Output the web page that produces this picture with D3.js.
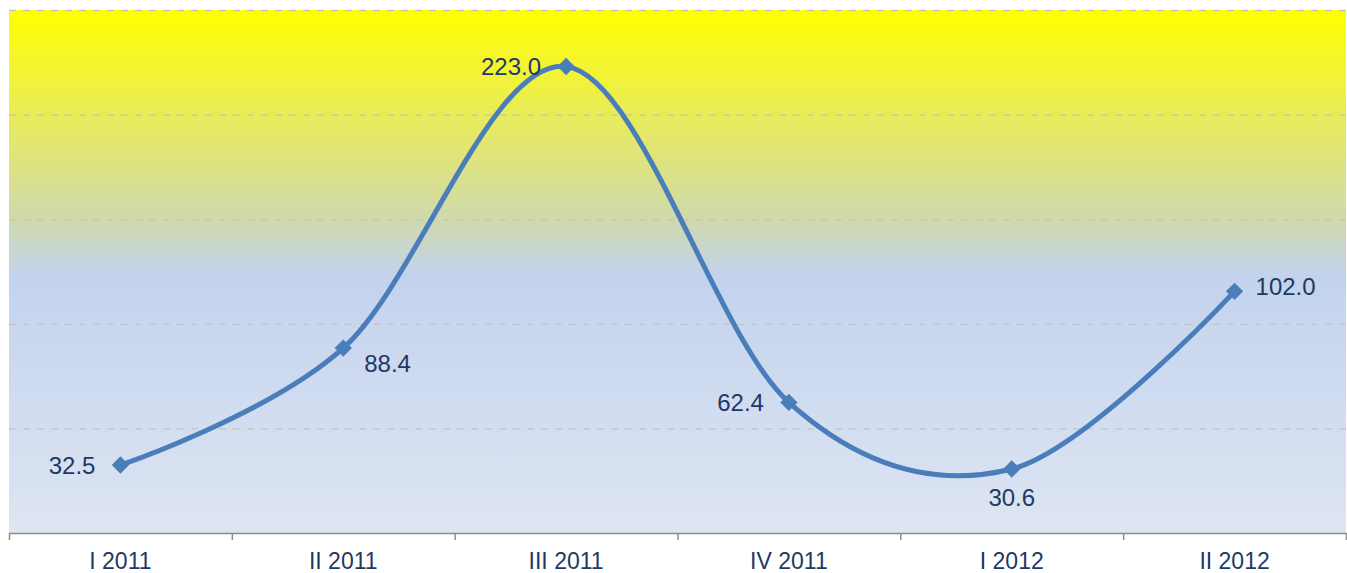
<html>
<head>
<script src="https://cdn.jsdelivr.net/npm/d3@7"></script>
<style>
body { margin:0; background:#ffffff; font-family:"Liberation Sans", Arial, sans-serif; }
svg text { fill:#1f3864; font-size:24px; }
</style>
</head>
<body>
<svg id="viz" width="1347" height="573"></svg>
<script>
var quarters = ["I 2011","II 2011","III 2011","IV 2011","I 2012","II 2012"];
// plotted heights (the last point sits above its 102.0 label value)
var values = [32.5, 88.4, 223.0, 62.4, 30.6, 115.5];
var labels = ["32.5","88.4","223.0","62.4","30.6","102.0"];
var labelSides = ["left","belowRight","left","left","below","right"];
var gridValues = [50,100,150,200,250];

var svg = d3.select("#viz");
var plotLeft = 9, plotRight = 1346, plotTop = 10, plotBottom = 533;

var xScale = d3.scaleBand().domain(quarters).range([plotLeft,plotRight]);
var yScale = d3.scaleLinear().domain([0,250]).range([plotBottom,plotTop]);

// background gradient
var grad = svg.append("defs").append("linearGradient").attr("id","bg")
	.attr("x1",0).attr("y1",0).attr("x2",0).attr("y2",1);
grad.append("stop").attr("offset","0%").attr("stop-color","#ffff00");
grad.append("stop").attr("offset","27%").attr("stop-color","#e1e577");
grad.append("stop").attr("offset","40%").attr("stop-color","#cfd9ad");
grad.append("stop").attr("offset","51%").attr("stop-color","#c3d3ee");
grad.append("stop").attr("offset","100%").attr("stop-color","#dee5f2");

svg.append("rect").attr("x",plotLeft).attr("y",plotTop).attr("width",plotRight-plotLeft).attr("height",plotBottom-plotTop)
	.attr("fill","url(#bg)");

// grid
svg.selectAll(".grid").data(gridValues).enter().append("line").attr("class","grid")
	.attr("x1",plotLeft).attr("x2",plotRight)
	.attr("y1",function(d){ return yScale(d)+0.5; }).attr("y2",function(d){ return yScale(d)+0.5; })
	.attr("stroke","#c4c4c4").attr("stroke-width",1.3).attr("stroke-dasharray","7,7");

// x axis
var xAxis = d3.axisBottom(xScale).tickSize(0).tickPadding(20);
var gx = svg.append("g").attr("transform","translate(0,"+plotBottom+")").call(xAxis);
gx.select(".domain").attr("stroke","#8c8c8c").attr("stroke-width",1.5);
gx.selectAll(".tick text").style("font-family","Liberation Sans, Arial, sans-serif").style("font-size","23px").attr("fill","#1f3864");
var bounds = quarters.map(function(q){ return xScale(q); }).concat([plotRight]);
gx.selectAll(".sep").data(bounds).enter().append("line")
	.attr("x1",function(d){ return d+0.5; }).attr("x2",function(d){ return d+0.5; })
	.attr("y1",0).attr("y2",7).attr("stroke","#8c8c8c").attr("stroke-width",1.5);

var cx = function(i){ return xScale(quarters[i]) + xScale.bandwidth()/2; };

// smoothed line
var line = d3.line().x(function(d,i){ return cx(i); }).y(function(d){ return yScale(d); })
	.curve(d3.curveCardinal.tension(0));
svg.append("path").datum(values).attr("d",line)
	.attr("fill","none").attr("stroke","#4a7ebb").attr("stroke-width",5);

// markers
svg.selectAll(".pt").data(values).enter().append("path").attr("class","pt")
	.attr("d",d3.symbol().type(d3.symbolSquare).size(150))
	.attr("transform",function(d,i){ return "translate("+cx(i)+","+yScale(d)+") rotate(45)"; })
	.attr("fill","#4a7ebb");

// labels
svg.selectAll(".lbl").data(values).enter().append("text").attr("class","lbl")
	.text(function(d,i){ return labels[i]; })
	.attr("x",function(d,i){
		var s = labelSides[i];
		if (s=="left") return cx(i)-25;
		if (s=="belowRight" || s=="right") return cx(i)+21;
		return cx(i);
	})
	.attr("y",function(d,i){
		var s = labelSides[i];
		if (s=="belowRight") return yScale(d)+24;
		if (s=="below") return yScale(d)+37;
		if (s=="right") return yScale(d)+4;
		return yScale(d)+9;
	})
	.attr("text-anchor",function(d,i){
		var s = labelSides[i];
		if (s=="left") return "end";
		if (s=="below") return "middle";
		return "start";
	});
</script>
</body>
</html>
